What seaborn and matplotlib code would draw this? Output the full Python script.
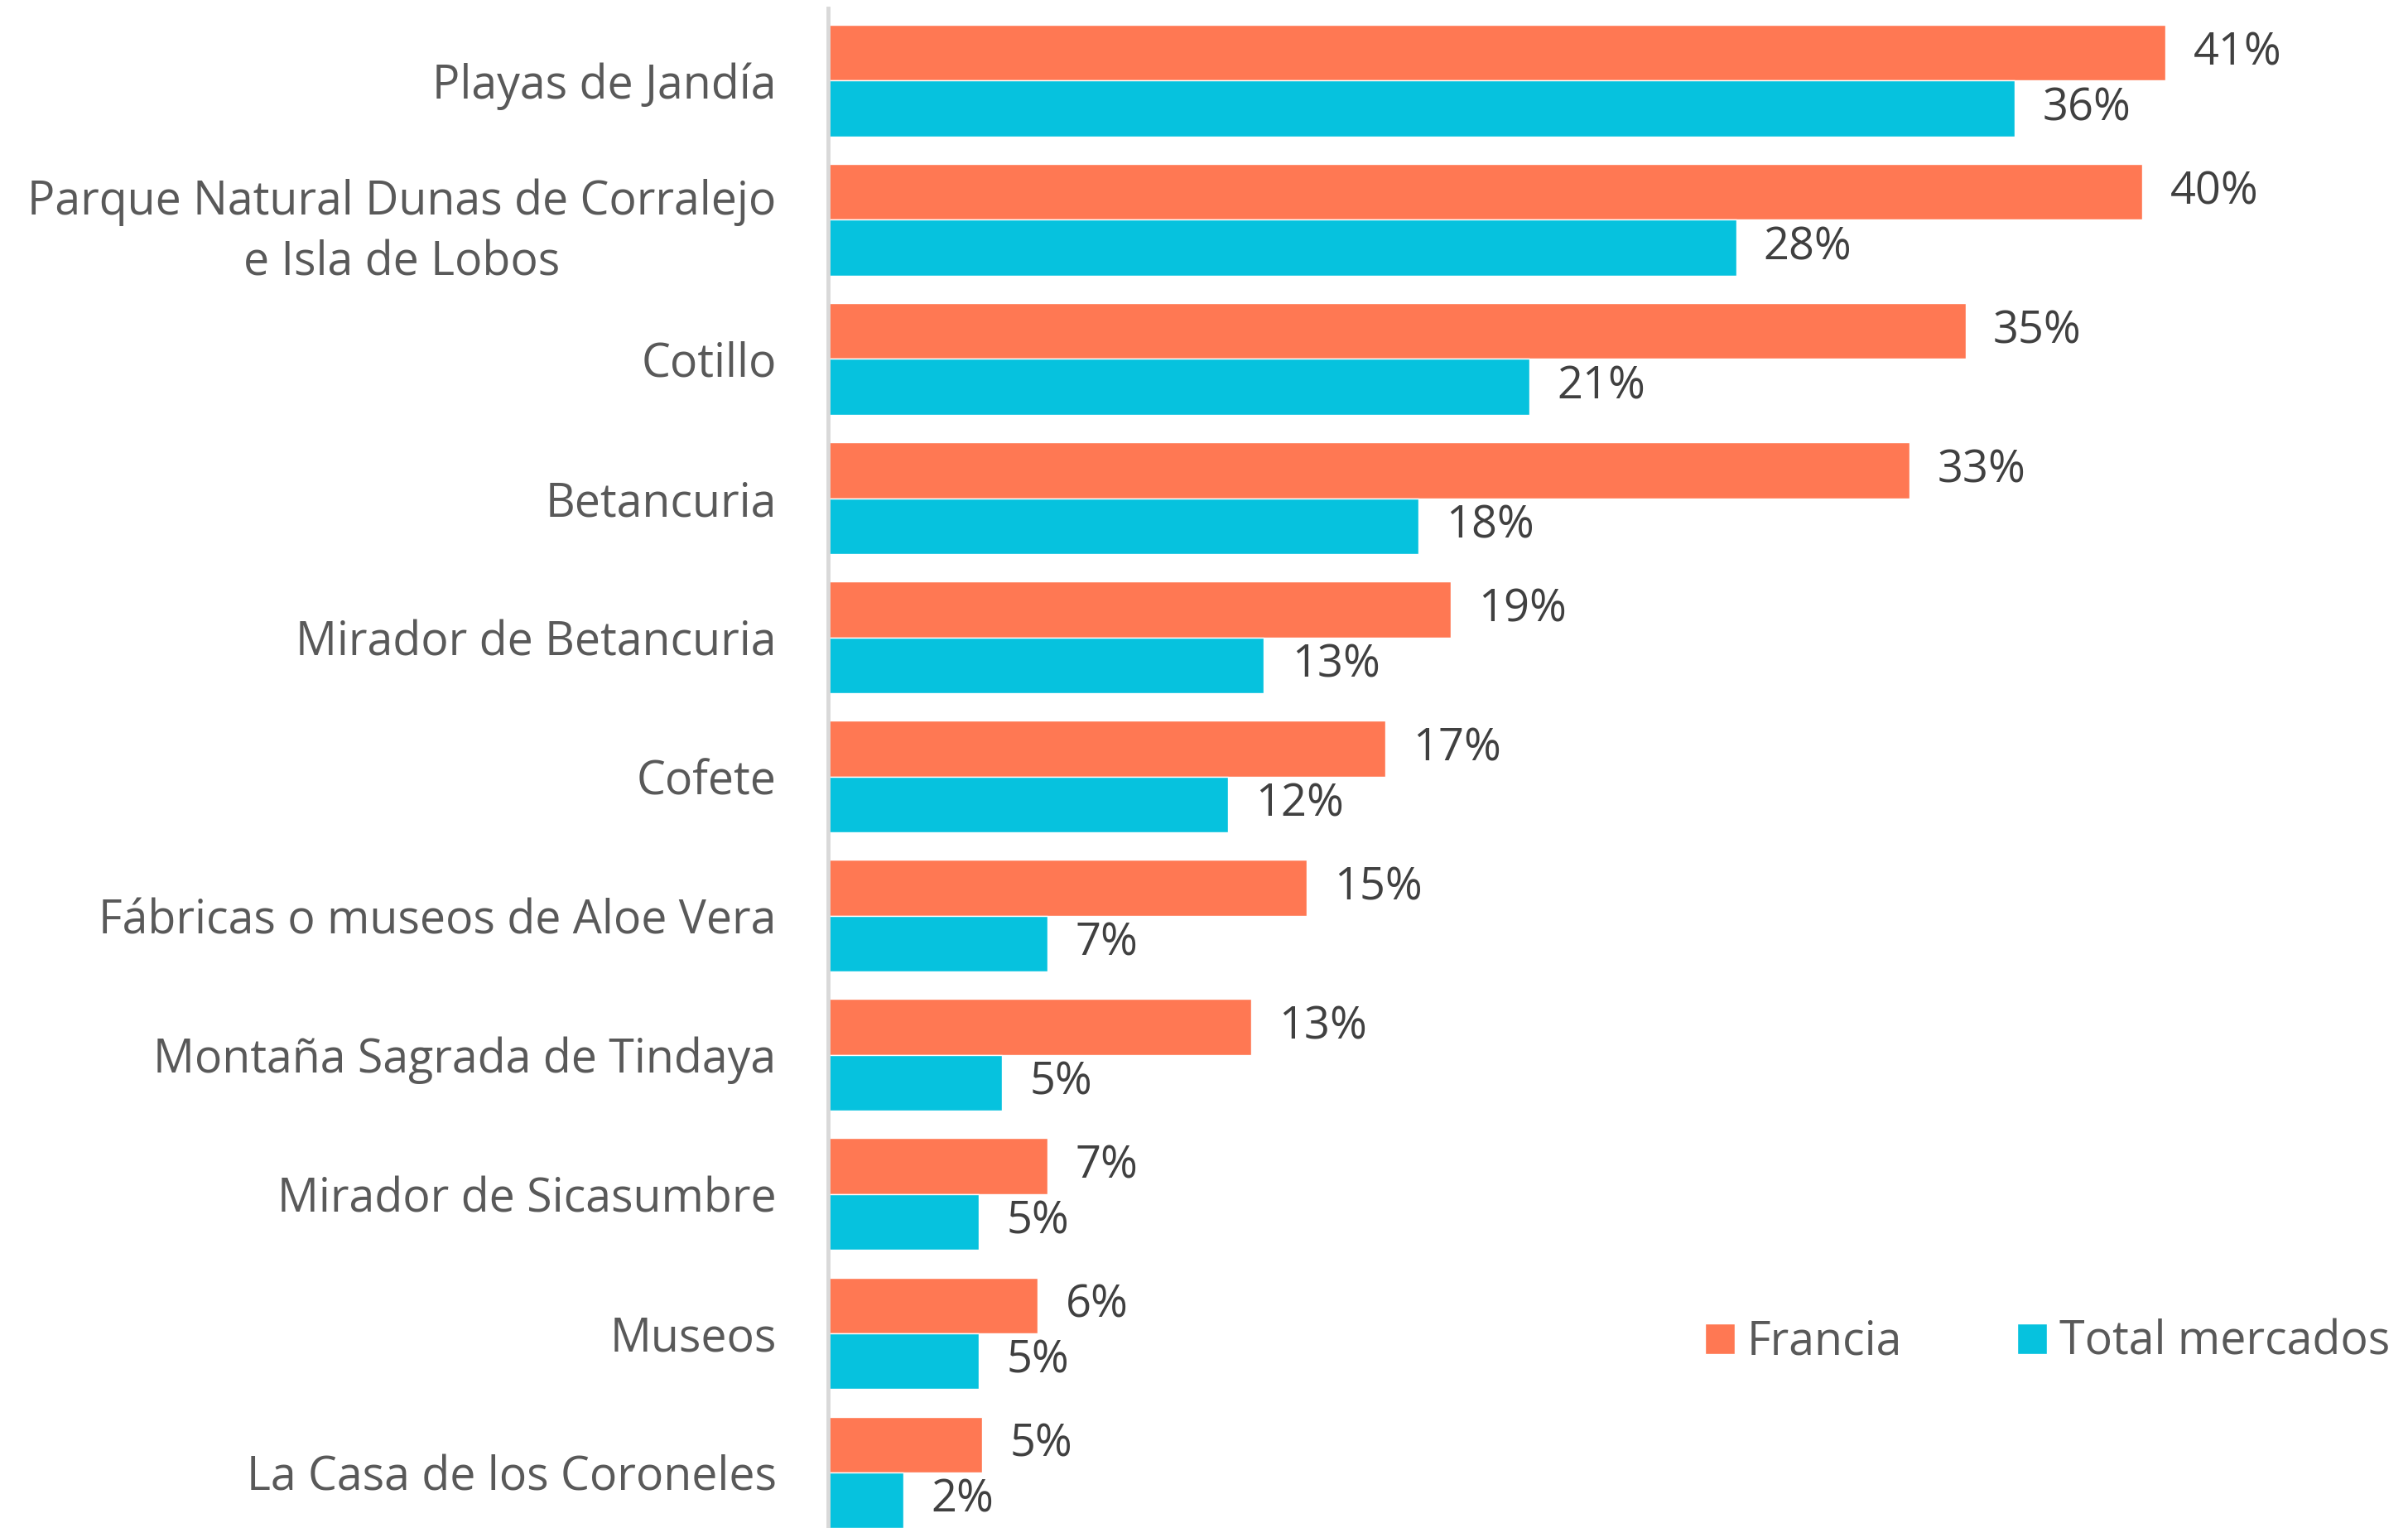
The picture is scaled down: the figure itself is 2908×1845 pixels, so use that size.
import pandas as pd
import matplotlib.pyplot as plt
import seaborn as sns

lugares = [
    'Playas de Jandía',
    'Parque Natural Dunas de Corralejo\ne Isla de Lobos',
    'Cotillo',
    'Betancuria',
    'Mirador de Betancuria',
    'Cofete',
    'Fábricas o museos de Aloe Vera',
    'Montaña Sagrada de Tindaya',
    'Mirador de Sicasumbre',
    'Museos',
    'La Casa de los Coroneles',
]
series = ['Francia', 'Total mercados']
francia = [40.8, 40.1, 34.7, 33.0, 19.0, 17.0, 14.6, 12.9, 6.7, 6.4, 4.7]
total = [36.2, 27.7, 21.4, 18.0, 13.3, 12.2, 6.7, 5.3, 4.6, 4.6, 2.3]
colores = ['#FF7853', '#06C2DE']

df = pd.DataFrame({
    'lugar': lugares * 2,
    'serie': [series[0]] * len(lugares) + [series[1]] * len(lugares),
    'valor': francia + total,
})

sns.set_style('white')
plt.rcParams['font.family'] = ['Open Sans', 'DejaVu Sans']
text_color = '#595959'
fs = 40

fig = plt.figure(figsize=(29.08, 18.45), dpi=100)
ax = fig.add_axes([1000 / 2908, 0, 1 - 1000 / 2908, 1 - 10 / 1845])

sns.barplot(data=df, y='lugar', x='valor', hue='serie', orient='h',
            palette=colores, width=0.8, saturation=1, ax=ax)

# etiquetas de valor al final de cada barra
for cont in ax.containers:
    ax.bar_label(cont, fmt='%.0f%%', padding=24, fontsize=fs - 1, color='#404040')

ax.set_xlim(0, 48.2)
ax.set_ylim(10.40, -0.52)
ax.set_xlabel('')
ax.set_ylabel('')
ax.set_xticks([])
ax.tick_params(axis='y', length=0, pad=45, labelsize=fs, labelcolor=text_color)
for lab in ax.get_yticklabels():
    lab.set_multialignment('center')
    lab.set_linespacing(1.4)

for s in ['top', 'right', 'bottom']:
    ax.spines[s].set_visible(False)
ax.spines['left'].set_color('#D9D9D9')
ax.spines['left'].set_linewidth(3.5)

ax.legend(loc='center left', bbox_to_anchor=(0.529, 0.122), ncol=2, frameon=False,
          fontsize=fs, labelcolor=text_color, handlelength=0.65, handleheight=0.65,
          handletextpad=0.26, columnspacing=2.5)

fig.savefig('out.png', dpi=100)
